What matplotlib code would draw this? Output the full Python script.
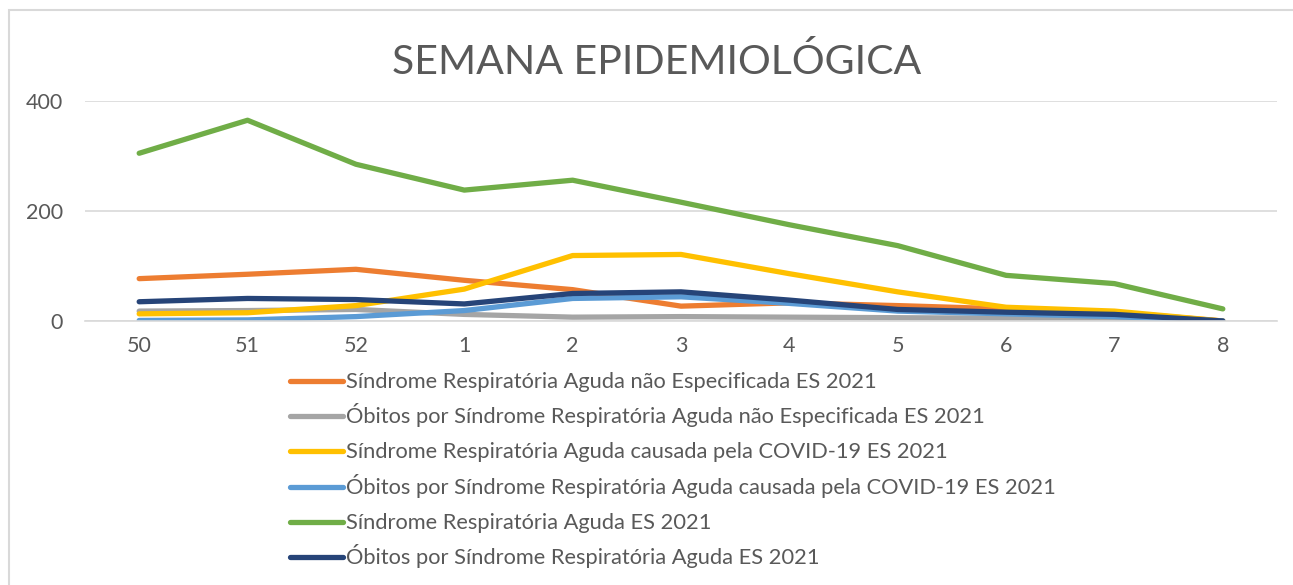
import matplotlib.pyplot as plt
from matplotlib.lines import Line2D
from matplotlib.patches import Rectangle

weeks = ["50", "51", "52", "1", "2", "3", "4", "5", "6", "7", "8"]

srag_nao_espec = [77, 85, 94, 74, 57, 27, 33, 28, 22, 16, 0]
obitos_nao_espec = [18, 19, 21, 12, 7, 8, 7, 6, 5, 5, 0]
srag_covid = [13, 15, 28, 58, 119, 121, 86, 53, 25, 18, 0]
obitos_covid = [1, 2, 8, 19, 41, 44, 32, 18, 13, 8, 0]
srag_total = [305, 365, 285, 238, 256, 216, 175, 137, 83, 68, 22]
obitos_total = [35, 41, 39, 31, 50, 53, 38, 21, 16, 12, 0]

series = [
    ("Síndrome Respiratória Aguda não Especificada ES 2021", srag_nao_espec, "#ED7D31"),
    ("Óbitos por Síndrome Respiratória Aguda não Especificada ES 2021", obitos_nao_espec, "#A5A5A5"),
    ("Síndrome Respiratória Aguda causada pela COVID-19 ES 2021", srag_covid, "#FFC000"),
    ("Óbitos por Síndrome Respiratória Aguda causada pela COVID-19 ES 2021", obitos_covid, "#5B9BD5"),
    ("Síndrome Respiratória Aguda ES 2021", srag_total, "#70AD47"),
    ("Óbitos por Síndrome Respiratória Aguda ES 2021", obitos_total, "#264478"),
]

plt.rcParams["font.family"] = ["Lato", "DejaVu Sans"]
text_color = "#595959"

W, H = 1293, 585
fig = plt.figure(figsize=(W / 100, H / 100), dpi=100)

# chart frame (open at the bottom and right, as in the cropped screenshot)
fig.patches.append(Rectangle((9 / W, -0.1), 1.2, 1.1 - 10 / H, transform=fig.transFigure,
                             fill=False, edgecolor="#d9d9d9", linewidth=1.5))

ax = fig.add_axes([85 / W, 1 - 321 / H, (1277 - 85) / W, 220 / H])
x = list(range(len(weeks)))
for label, values, color in series:
    ax.plot(x, values, color=color, linewidth=3.8, solid_capstyle="round",
            solid_joinstyle="round", label=label)

ax.set_xlim(-0.5, len(weeks) - 0.5)
ax.set_ylim(0, 400)
ax.set_yticks([0, 200, 400])
ax.set_xticks(x)
ax.set_xticklabels(weeks)
ax.grid(axis="y", color="#d9d9d9", linewidth=1.2)
ax.set_axisbelow(True)
for side in ["top", "right", "left"]:
    ax.spines[side].set_visible(False)
ax.spines["bottom"].set_color("#d9d9d9")
ax.spines["bottom"].set_linewidth(1.2)
ax.tick_params(length=0, labelsize=15.5, labelcolor=text_color)
ax.tick_params(axis="x", pad=11)
ax.tick_params(axis="y", pad=16)

fig.text(657 / W, 1 - 62 / H, "SEMANA EPIDEMIOLÓGICA", ha="center", va="center",
         fontsize=29.5, color=text_color)

# legend drawn row by row so the spacing stays even
row_y = 381
for label, values, color in series:
    yf = 1 - row_y / H
    fig.lines.append(Line2D([290 / W, 343 / W], [yf, yf], transform=fig.transFigure,
                            color=color, linewidth=3.8, solid_capstyle="round"))
    fig.text(346 / W, 1 - (row_y + 7) / H, label, ha="left", va="baseline",
             fontsize=15.75, color=text_color)
    row_y += 35.2

fig.savefig("out.png", dpi=100)
